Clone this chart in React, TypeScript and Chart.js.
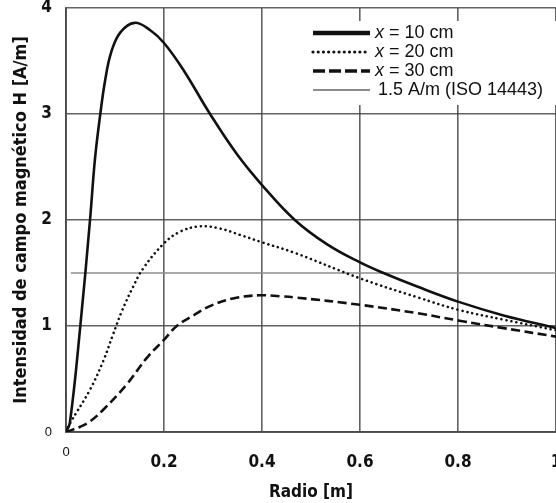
import React, { useEffect, useRef } from 'react';
import { Chart, registerables } from 'chart.js';

Chart.register(...registerables);

// ---------- data ----------
const seriesLabels = ['x = 10 cm', 'x = 20 cm', 'x = 30 cm', '1.5 A/m (ISO 14443)'];
const xTickLabels = ['0', '0.2', '0.4', '0.6', '0.8', '1'];
const yTickLabels = ['0', '1', '2', '3', '4'];

const r10 = [0, 0.008, 0.029, 0.049, 0.059, 0.07, 0.08, 0.092, 0.111, 0.14, 0.172, 0.2, 0.239, 0.294, 0.349, 0.4, 0.467, 0.533, 0.6, 0.648, 0.718, 0.8, 0.893, 1.0];
const h10 = [0, 0.09, 0.99, 2.0, 2.57, 3.0, 3.32, 3.58, 3.77, 3.86, 3.79, 3.67, 3.42, 3.0, 2.62, 2.33, 2.0, 1.77, 1.6, 1.5, 1.37, 1.23, 1.1, 0.98];

const r20 = [0, 0.008, 0.049, 0.076, 0.096, 0.114, 0.137, 0.157, 0.2, 0.233, 0.273, 0.314, 0.355, 0.4, 0.467, 0.6, 0.718, 0.803, 0.893, 1.0];
const h20 = [0, 0.08, 0.4, 0.67, 0.92, 1.14, 1.37, 1.54, 1.78, 1.89, 1.94, 1.92, 1.86, 1.79, 1.69, 1.45, 1.27, 1.15, 1.06, 0.96];

const r30 = [0, 0.029, 0.049, 0.076, 0.124, 0.165, 0.2, 0.226, 0.26, 0.295, 0.341, 0.396, 0.437, 0.467, 0.6, 0.718, 0.803, 0.893, 1.0];
const h30 = [0, 0.05, 0.1, 0.21, 0.45, 0.7, 0.87, 1.0, 1.1, 1.19, 1.26, 1.29, 1.28, 1.27, 1.2, 1.12, 1.05, 0.98, 0.9];

const isoR = [0.01, 1.0];
const isoH = [1.5, 1.5];

const xTitle = 'Radio [m]';
const yTitle = 'Intensidad de campo magnético H [A/m]';

// ---------- styles ----------
const AXIS_FONT = '"DejaVu Sans Condensed", "Liberation Sans Narrow", "Arial Narrow", sans-serif';
const PLAIN_FONT = '"Liberation Sans", Arial, Helvetica, sans-serif';
const INK = '#111111';
const GRID = 'rgba(70,70,70,0.85)';
const ISO_COLOR = '#8c8c8c';

const pts = (xs: number[], ys: number[]) => xs.map((x, i) => ({ x, y: ys[i] }));

const legendStyles = [
  { width: 4.5, dash: [] as number[], cap: 'butt' as CanvasLineCap, color: INK },
  { width: 3.2, dash: [0.01, 5.2], cap: 'round' as CanvasLineCap, color: INK },
  { width: 3.6, dash: [12, 4], cap: 'butt' as CanvasLineCap, color: INK },
  { width: 2, dash: [] as number[], cap: 'butt' as CanvasLineCap, color: ISO_COLOR },
];

const insideLegend = {
  id: 'insideLegend',
  afterDatasetsDraw(chart: any) {
    const { ctx, chartArea } = chart;
    const boxLeft = chartArea.right - 264;
    const boxTop = chartArea.top + 13;
    ctx.save();
    ctx.fillStyle = '#ffffff';
    ctx.fillRect(boxLeft, boxTop, 270, 84);
    const lineX0 = boxLeft + 21;
    const lineX1 = boxLeft + 78;
    seriesLabels.forEach((label, i) => {
      const y = boxTop + 12 + i * 19;
      const st = legendStyles[i];
      ctx.beginPath();
      ctx.lineWidth = st.width;
      ctx.strokeStyle = st.color;
      ctx.lineCap = st.cap;
      ctx.setLineDash(st.dash);
      ctx.moveTo(lineX0, y);
      ctx.lineTo(lineX1, y);
      ctx.stroke();
      ctx.setLineDash([]);
      ctx.fillStyle = INK;
      ctx.textBaseline = 'middle';
      ctx.textAlign = 'left';
      if (label.startsWith('x ')) {
        ctx.font = 'italic 18px ' + PLAIN_FONT;
        ctx.fillText('x', lineX1 + 5, y);
        const w = ctx.measureText('x').width;
        ctx.font = '18px ' + PLAIN_FONT;
        ctx.fillText(label.slice(1), lineX1 + 5 + w, y);
      } else {
        ctx.font = '18px ' + PLAIN_FONT;
        ctx.fillText(label, lineX1 + 8, y);
      }
    });
    ctx.restore();
  },
};

export default function App() {
  const ref = useRef<HTMLCanvasElement | null>(null);

  useEffect(() => {
    if (!ref.current) return;
    const chart = new Chart(ref.current, {
      type: 'line',
      data: {
        datasets: [
          {
            label: seriesLabels[0],
            data: pts(r10, h10),
            borderColor: INK,
            borderWidth: 2.6,
            pointRadius: 0,
            tension: 0.4,
          },
          {
            label: seriesLabels[1],
            data: pts(r20, h20),
            borderColor: INK,
            borderWidth: 2.6,
            borderDash: [0.01, 5],
            borderCapStyle: 'round',
            pointRadius: 0,
            tension: 0.4,
          },
          {
            label: seriesLabels[2],
            data: pts(r30, h30),
            borderColor: INK,
            borderWidth: 2.6,
            borderDash: [9, 4.5],
            pointRadius: 0,
            tension: 0.4,
          },
          {
            label: seriesLabels[3],
            data: pts(isoR, isoH),
            borderColor: ISO_COLOR,
            borderWidth: 1.6,
            pointRadius: 0,
          },
        ],
      } as any,
      options: {
        animation: false,
        responsive: false,
        maintainAspectRatio: false,
        layout: { padding: { top: 8, left: 0, right: 0, bottom: 0 } },
        plugins: {
          legend: { display: false },
          tooltip: { enabled: false },
        },
        scales: {
          x: {
            type: 'linear',
            min: 0,
            max: 1,
            afterFit: (s: any) => {
              s.height = 71;
              s.paddingLeft = 0;
              s.paddingRight = 0;
            },
            ticks: {
              stepSize: 0.2,
              autoSkip: false,
              maxRotation: 0,
              padding: 20,
              color: INK,
              callback: (_v: any, i: number) => xTickLabels[i],
              font: (c: any) =>
                c.index === 0
                  ? { family: PLAIN_FONT, size: 13, lineHeight: 0 }
                  : { family: AXIS_FONT, size: 17, weight: 'bold' },
            },
            grid: { color: GRID, lineWidth: 1.6, drawTicks: false },
            border: { display: true, color: GRID, width: 2 },
            title: {
              display: true,
              text: xTitle,
              color: INK,
              font: { family: AXIS_FONT, size: 17, weight: 'bold' },
              padding: { top: 0, bottom: 0 },
            },
          },
          y: {
            type: 'linear',
            min: 0,
            max: 4,
            afterFit: (s: any) => {
              s.width = 66;
              s.paddingTop = 0;
              s.paddingBottom = 0;
            },
            ticks: {
              stepSize: 1,
              padding: 14,
              color: INK,
              callback: (_v: any, i: number) => yTickLabels[i],
              font: (c: any) =>
                c.index === 0
                  ? { family: PLAIN_FONT, size: 13 }
                  : { family: AXIS_FONT, size: 17, weight: 'bold' },
            },
            grid: { color: GRID, lineWidth: 1.6, drawTicks: false },
            border: { display: true, color: GRID, width: 2 },
            title: {
              display: true,
              text: yTitle,
              color: INK,
              font: { family: AXIS_FONT, size: 18, weight: 'bold' },
              padding: { top: 11, bottom: 0 },
            },
          },
        },
      } as any,
      plugins: [insideLegend],
    });
    return () => chart.destroy();
  }, []);

  return (
    <div style={{ position: 'absolute', left: 0, top: 0, width: 556, height: 503, overflow: 'hidden', background: '#fff' }}>
      <canvas ref={ref} width={556} height={503} style={{ display: 'block', width: 556, height: 503 }} />
    </div>
  );
}
